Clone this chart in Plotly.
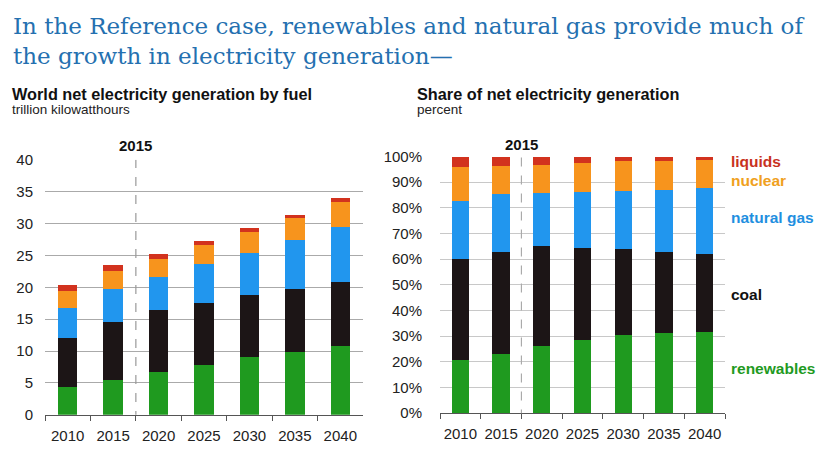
import plotly.graph_objects as go

years = ["2010", "2015", "2020", "2025", "2030", "2035", "2040"]
fuels = ["renewables", "coal", "natural gas", "nuclear", "liquids"]
colors = {"renewables": "#1f9a1f", "coal": "#1c1516", "natural gas": "#2196ee",
          "nuclear": "#f7941d", "liquids": "#d2321e"}

# trillion kWh (left)
gen_renewables = [4.3, 5.5, 6.7, 7.8, 9.0, 9.9, 10.8]
gen_coal = [7.8, 9.1, 9.7, 9.8, 9.8, 9.9, 10.0]
gen_gas = [4.7, 5.1, 5.2, 6.0, 6.6, 7.7, 8.7]
gen_nuclear = [2.7, 2.9, 2.9, 3.0, 3.3, 3.3, 3.9]
gen_liquids = [0.9, 0.9, 0.8, 0.7, 0.6, 0.6, 0.6]

# percent share (right)
sh_renewables = [20.6, 23.1, 26.3, 28.4, 30.4, 31.3, 31.6]
sh_coal = [39.4, 39.8, 38.7, 36.0, 33.7, 31.6, 30.3]
sh_gas = [22.5, 22.5, 20.9, 21.9, 22.5, 24.2, 25.9]
sh_nuclear = [13.4, 10.9, 11.0, 11.2, 11.5, 11.3, 10.95]
sh_liquids = [4.1, 3.7, 3.1, 2.5, 1.9, 1.6, 1.25]

title_lines = ["In the Reference case, renewables and natural gas provide much of",
               "the growth in electricity generation\u2014"]

gen = dict(zip(fuels, [gen_renewables, gen_coal, gen_gas, gen_nuclear, gen_liquids]))
share = dict(zip(fuels, [sh_renewables, sh_coal, sh_gas, sh_nuclear, sh_liquids]))

W, H = 816, 453
def px(x): return x / W
def py(y): return 1 - y / H

fig = go.Figure()
for f in fuels:
    fig.add_trace(go.Bar(x=years, y=gen[f], marker=dict(color=colors[f], line=dict(width=0)),
                         xaxis="x", yaxis="y", showlegend=False, name=f))
for f in fuels:
    fig.add_trace(go.Bar(x=years, y=share[f], marker=dict(color=colors[f], line=dict(width=0)),
                         xaxis="x2", yaxis="y2", showlegend=False, name=f))

tickfont = dict(family="Liberation Sans, Arial", size=15, color="#222")
xcommon = dict(type="category", showgrid=False, showline=True, linecolor="#555", linewidth=1,
               ticks="outside", tickson="boundaries", ticklen=5, tickcolor="#555",
               tickfont=tickfont, range=[-0.5, 6.5], fixedrange=True, tickangle=0,
               ticklabelstandoff=7)
fig.update_layout(
    width=W, height=H, margin=dict(l=0, r=0, t=0, b=0),
    paper_bgcolor="white", plot_bgcolor="white",
    barmode="stack", bargap=0.575,
    xaxis=dict(domain=[px(45), px(363)], anchor="y", **xcommon),
    yaxis=dict(domain=[py(421.7), py(156.7)], range=[0, 40], dtick=5, anchor="x",
               showgrid=True, gridcolor="#aaaaaa", gridwidth=1, zeroline=False,
               showline=False, tickfont=tickfont, ticklabelstandoff=11),
    xaxis2=dict(domain=[px(440), px(725)], anchor="y2", **xcommon),
    yaxis2=dict(domain=[py(420), py(153.3)], range=[0, 100], dtick=10, anchor="x2",
                ticksuffix="%", showgrid=True, gridcolor="#c8c8c8", gridwidth=1,
                zeroline=False, showline=False, tickfont=tickfont, ticklabelstandoff=17),
)

# dashed 2015 markers
fig.add_shape(type="line", xref="x", yref="y", x0=1.5, x1=1.5, y0=-0.8, y1=40,
              line=dict(color="#999", width=1.2, dash="dash"))
fig.add_shape(type="line", xref="x2", yref="y2", x0=1.5, x1=1.5, y0=-2, y1=100,
              line=dict(color="#aaa", width=1.2, dash="dash"))

ann = []
title_font = dict(family="DejaVu Serif, Georgia", size=23, color="#2470b0")
for i, (line, yb) in enumerate(zip(title_lines, [18, 49])):
    ann.append(dict(text=line, x=px(11), y=py(yb), xref="paper", yref="paper",
                    xanchor="left", yanchor="middle", showarrow=False, font=title_font))
sub_bold = dict(family="Liberation Sans, Arial", size=16.3, color="#111")
sub_norm = dict(family="Liberation Sans, Arial", size=13.5, color="#222")
ann.append(dict(text="<b>World net electricity generation by fuel</b>", x=px(10), y=py(88),
                xref="paper", yref="paper", xanchor="left", yanchor="middle", showarrow=False, font=sub_bold))
ann.append(dict(text="trillion kilowatthours", x=px(10), y=py(104),
                xref="paper", yref="paper", xanchor="left", yanchor="middle", showarrow=False, font=sub_norm))
ann.append(dict(text="<b>Share of net electricity generation</b>", x=px(415), y=py(88),
                xref="paper", yref="paper", xanchor="left", yanchor="middle", showarrow=False, font=sub_bold))
ann.append(dict(text="percent", x=px(415), y=py(104),
                xref="paper", yref="paper", xanchor="left", yanchor="middle", showarrow=False, font=sub_norm))
lab15 = dict(family="Liberation Sans, Arial", size=15, color="#111")
ann.append(dict(text="<b>2015</b>", x=1.5, xref="x", y=py(142), yref="paper", yanchor="middle",
                showarrow=False, font=lab15))
ann.append(dict(text="<b>2015</b>", x=1.5, xref="x2", y=py(141), yref="paper", yanchor="middle",
                showarrow=False, font=lab15))

side = [("liquids", 158, "#c8321e"), ("nuclear", 178, "#f0a020"), ("natural gas", 217, "#1f8fe0"),
        ("coal", 297, "#111111"), ("renewables", 373, "#1f9a1f")]
for name, yy, c in side:
    ann.append(dict(text="<b>" + name + "</b>", x=px(729), y=py(yy), xref="paper", yref="paper",
                    xanchor="left", yanchor="middle", showarrow=False,
                    font=dict(family="Liberation Sans, Arial", size=15.5, color=c)))
fig.update_layout(annotations=ann)

fig.write_html("out.html")
